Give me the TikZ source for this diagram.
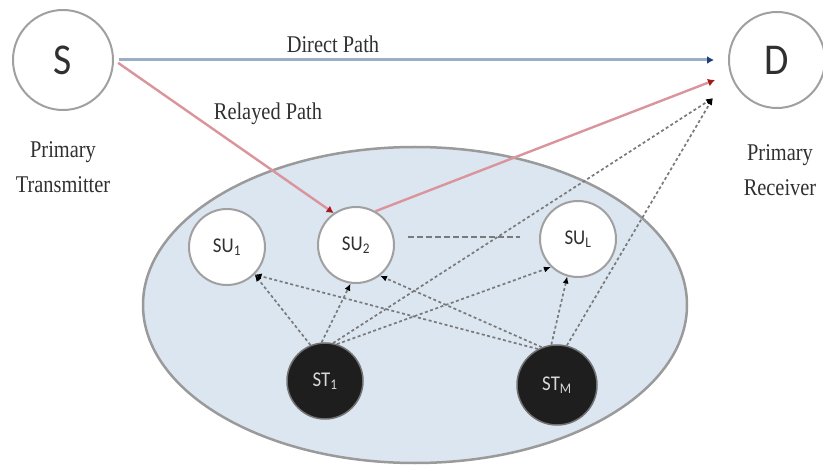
\documentclass[tikz,border=0pt]{standalone}
\usepackage{fontspec}
\usetikzlibrary{arrows.meta,shapes.geometric}
\newfontfamily\lblfont[FakeStretch=0.85]{Liberation Serif}
\newfontfamily\nodefont[FakeStretch=0.9]{Carlito}
\definecolor{ellfill}{HTML}{DCE6F1}
\definecolor{ellline}{HTML}{9A9A9A}
\definecolor{circline}{HTML}{A0A0A0}
\definecolor{directline}{HTML}{9AAEC8}
\definecolor{directhead}{HTML}{1F3E7A}
\definecolor{relayline}{HTML}{D9959B}
\definecolor{relayhead}{HTML}{A31A1A}
\definecolor{dotline}{HTML}{7A7A7A}
\definecolor{txt}{HTML}{303030}
\definecolor{stfill}{HTML}{1E1E1E}
\begin{document}
\begin{tikzpicture}[x=1pt,y=-1pt,
  pcirc/.style={circle,draw=circline,line width=2pt,fill=white,inner sep=0pt,
    font=\nodefont\fontsize{44}{44}\selectfont,text=txt},
  sucirc/.style={circle,draw=circline,line width=2pt,fill=white,minimum size=76pt,inner sep=0pt,
    font=\nodefont\fontsize{21}{21}\selectfont,text=txt},
  stcirc/.style={circle,draw=black!55,line width=1.5pt,fill=stfill,inner sep=0pt,
    font=\nodefont\fontsize{21}{21}\selectfont,text=white!85!black},
  lbl/.style={font=\lblfont\fontsize{24}{35}\selectfont,text=txt,align=center,inner sep=0pt},
  directpath/.style={draw=directline,line width=3pt,-{Latex[length=7pt,width=8pt,color=directhead]}},
  relaypath/.style={draw=relayline,line width=2.4pt,-{Latex[length=7pt,width=8pt,color=relayhead]}},
  dotarrow/.style={draw=dotline,line width=1.7pt,dash pattern=on 3pt off 2.5pt,
    -{Latex[length=7pt,width=6pt,color=black]}},
  dashline/.style={draw=dotline,line width=2pt,dash pattern=on 6pt off 3pt}
]
\useasboundingbox (0,0) rectangle (823,468);
% cluster
\node[ellipse,draw=ellline,line width=2.5pt,fill=ellfill,minimum width=544pt,minimum height=316pt,inner sep=0pt] (cloud) at (415,305) {};
% primary nodes
\node[pcirc,minimum size=100pt] (S) at (63,60) {S};
\node[pcirc,minimum size=96pt] (D) at (777,60) {D};
\node[lbl] (ptx) at (63,167) {Primary\\Transmitter};
\node[lbl] (prx) at (780,170) {Primary\\Receiver};
% secondary nodes
\node[sucirc] (SU1) at (227,247) {SU\textsubscript{1}};
\node[sucirc] (SU2) at (356,245) {SU\textsubscript{2}};
\node[sucirc] (SUL) at (578,239) {SU\textsubscript{L}};
\node[stcirc,minimum size=76pt] (ST1) at (325,381) {ST\textsubscript{1}};
\node[stcirc,minimum size=80pt] (STM) at (557,385) {ST\textsubscript{M}};
% free ends
\coordinate (Dr) at (715,80);
\coordinate (Db) at (713,98);
\coordinate (dl1) at (408,237);
\coordinate (dl2) at (520,237);
% dotted links
\draw[dotarrow] (ST1.112) -- (SU1.-45);
\draw[dotarrow] (STM.118) -- (SU1.-45);
\draw[dotarrow] (ST1.95) -- (SU2.262);
\draw[dotarrow] (STM.112) -- (SU2.-52);
\draw[dotarrow] (ST1.72) -- (SUL.226);
\draw[dotarrow] (STM.98) -- (SUL.254);
\draw[dotarrow] (ST1.78) -- (Db);
\draw[dotarrow] (STM.76) -- (Db);
\draw[dashline] (dl1) -- (dl2);
% primary paths
\draw[directpath,shorten <=5pt,shorten >=14pt] (S.east) -- (D.west);
\draw[relaypath,shorten <=5pt] (S.east) -- (SU2.125);
\draw[relaypath] (SU2.60) -- (Dr);
\node[lbl] (dplbl) at (333,44) {Direct Path};
\node[lbl] (rplbl) at (268,114) {Relayed Path};
\end{tikzpicture}
\end{document}
